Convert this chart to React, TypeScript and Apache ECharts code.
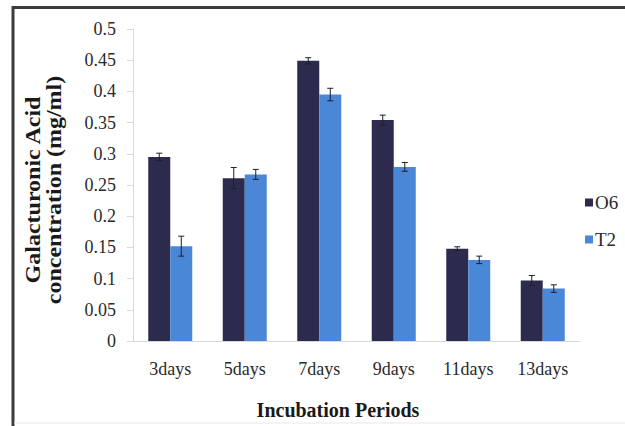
import React, { useEffect, useRef } from "react";
import * as echarts from "echarts";

const categories = ["3days", "5days", "7days", "9days", "11days", "13days"];
const o6Values = [0.295, 0.261, 0.449, 0.354, 0.148, 0.097];
const o6Errors = [0.006, 0.017, 0.005, 0.008, 0.003, 0.008];
const t2Values = [0.152, 0.267, 0.395, 0.279, 0.13, 0.084];
const t2Errors = [0.016, 0.008, 0.01, 0.007, 0.006, 0.006];
const yTicks = [0, 0.05, 0.1, 0.15, 0.2, 0.25, 0.3, 0.35, 0.4, 0.45, 0.5];

const FONT = "'Liberation Serif', 'Times New Roman', serif";
const O6_COLOR = "#2c2b4d";
const T2_COLOR = "#4a87d6";
const BAR_W = 22;

function errorSeries(name: string, values: number[], errors: number[], offset: number) {
  return {
    type: "custom",
    name: name + " error",
    z: 5,
    silent: true,
    data: values.map((v, i) => [i, v - errors[i], v + errors[i]]),
    renderItem: (params: any, api: any) => {
      const idx = api.value(0);
      const lo = api.coord([idx, api.value(1)]);
      const hi = api.coord([idx, api.value(2)]);
      const x = lo[0] + offset;
      const cap = 3;
      const style = { stroke: "#1e1e2e", lineWidth: 1 };
      return {
        type: "group",
        children: [
          { type: "line", shape: { x1: x, y1: lo[1], x2: x, y2: hi[1] }, style },
          { type: "line", shape: { x1: x - cap, y1: hi[1], x2: x + cap, y2: hi[1] }, style },
          { type: "line", shape: { x1: x - cap, y1: lo[1], x2: x + cap, y2: lo[1] }, style },
        ],
      };
    },
  };
}

export default function App() {
  const ref = useRef<HTMLDivElement>(null);

  useEffect(() => {
    if (!ref.current) return;
    const chart = echarts.init(ref.current, null, { renderer: "svg" });
    chart.setOption({
      animation: false,
      backgroundColor: "#ffffff",
      grid: { left: 133, right: 45, top: 29, bottom: 85 },
      legend: {
        orient: "vertical",
        left: 580,
        top: 188,
        itemWidth: 8,
        itemHeight: 8,
        itemGap: 18,
        icon: "rect",
        textStyle: { fontFamily: FONT, fontSize: 19, color: "#2a2a2a", padding: [0, 0, 0, -3] },
        data: ["O6", "T2"],
      },
      xAxis: {
        type: "category",
        data: categories,
        axisLine: { lineStyle: { color: "#d9d9d9" } },
        axisTick: { show: false },
        axisLabel: { fontFamily: FONT, fontSize: 18, color: "#2a2a2a", margin: 19 },
      },
      yAxis: {
        type: "value",
        min: 0,
        max: 0.5,
        interval: 0.05,
        axisLine: { show: true, lineStyle: { color: "#d9d9d9" } },
        axisTick: { show: true, length: 6, lineStyle: { color: "#d9d9d9" } },
        splitLine: { show: false },
        axisLabel: {
          fontFamily: FONT,
          fontSize: 18,
          color: "#2a2a2a",
          margin: 17,
          formatter: (v: number) => {
            const t = yTicks.find((k) => Math.abs(k - v) < 1e-9);
            return t === undefined ? "" : String(t);
          },
        },
      },
      series: [
        {
          type: "bar",
          name: "O6",
          data: o6Values,
          barWidth: BAR_W,
          barGap: "0%",
          itemStyle: { color: O6_COLOR },
        },
        {
          type: "bar",
          name: "T2",
          data: t2Values,
          barWidth: BAR_W,
          barGap: "0%",
          itemStyle: { color: T2_COLOR },
        },
        errorSeries("O6", o6Values, o6Errors, -BAR_W / 2),
        errorSeries("T2", t2Values, t2Errors, BAR_W / 2),
      ],
      graphic: [
        {
          type: "text",
          x: 44,
          y: 190,
          rotation: Math.PI / 2,
          scaleX: 1.2,
          style: {
            text: "Galacturonic Acid\nconcentration (mg/ml)",
            font: `bold 20px ${FONT}`,
            fill: "#1a1a1a",
            textAlign: "center",
            textVerticalAlign: "middle",
            lineHeight: 21,
          },
        },
        {
          type: "text",
          x: 338,
          y: 410,
          style: {
            text: "Incubation Periods",
            font: `bold 20px ${FONT}`,
            fill: "#1a1a1a",
            textAlign: "center",
            textVerticalAlign: "middle",
          },
        },
        {
          type: "line",
          shape: { x1: 12, y1: 7.5, x2: 625, y2: 7.5 },
          style: { stroke: "#3c3c3c", lineWidth: 3 },
        },
        {
          type: "line",
          shape: { x1: 13, y1: 6, x2: 13, y2: 426 },
          style: { stroke: "#3c3c3c", lineWidth: 3 },
        },
        {
          type: "line",
          shape: { x1: 14, y1: 423, x2: 625, y2: 423 },
          style: { stroke: "#e8e8e8", lineWidth: 1 },
        },
      ],
    });
    return () => chart.dispose();
  }, []);

  return (
    <div
      ref={ref}
      style={{ position: "fixed", left: 0, top: 0, width: 625, height: 426 }}
    />
  );
}
